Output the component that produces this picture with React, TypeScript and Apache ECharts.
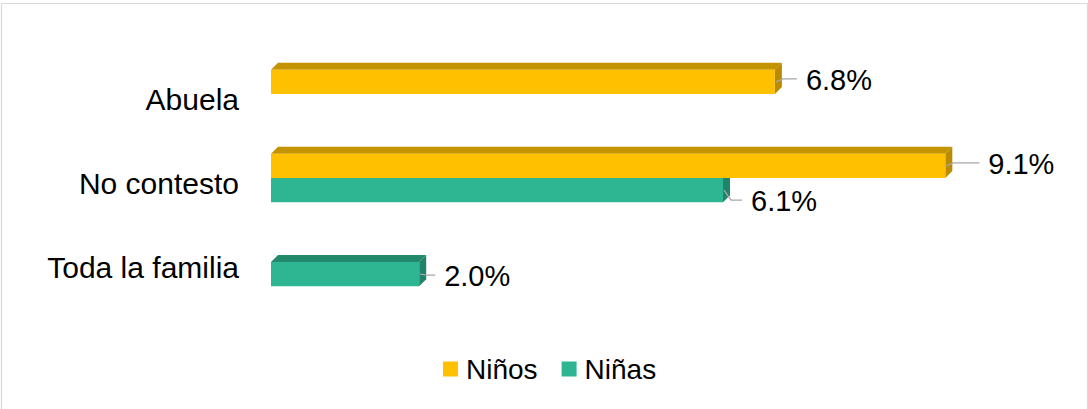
import React, { useEffect, useRef } from "react";
import * as echarts from "echarts";

const categories = ["Abuela", "No contesto", "Toda la familia"];
const seriesNames = ["Niños", "Niñas"];
const ninosValues: (number | null)[] = [6.8, 9.1, null];
const ninasValues: (number | null)[] = [null, 6.1, 2.0];

const FONT = 'Arial, "Liberation Sans", Helvetica, sans-serif';

// style: colours for front / top / side faces
const faceColors = [
  { front: "#FFC000", top: "#C49300", side: "#B98B00" },
  { front: "#2DB691", top: "#23896C", side: "#21846A" },
];
// style: label offsets (text left from bar end, text centre from bar centre), by series then category
const labelOffsets = [
  [ { dx: 31, dy: -2 }, { dx: 43, dy: -2 }, { dx: 28, dy: 0 } ],
  [ { dx: 28, dy: 0 }, { dx: 28, dy: 11 }, { dx: 25, dy: 2 } ],
];

const BAR_RATIO = 0.29;
const DEPTH = 7;

function makeSeries(sIdx: number, values: (number | null)[]) {
  const data: number[][] = [];
  values.forEach((v, i) => {
    if (v !== null) data.push([v, i]);
  });
  const col = faceColors[sIdx];
  return {
    type: "custom",
    name: seriesNames[sIdx],
    itemStyle: { color: col.front },
    encode: { x: 0, y: 1 },
    data,
    z: sIdx === 0 ? 3 : 2,
    renderItem: (params: any, api: any) => {
      const val = api.value(0);
      const cat = api.value(1);
      const start = api.coord([0, cat]);
      const end = api.coord([val, cat]);
      const band = api.size([0, 1])[1];
      const bw = band * BAR_RATIO;
      const x0 = start[0];
      const x1 = end[0];
      const yTop = sIdx === 0 ? start[1] - bw : start[1];
      const yBot = yTop + bw;
      const cy = (yTop + yBot) / 2;
      const off = labelOffsets[sIdx][cat];
      const tx = x1 + off.dx;
      const ty = cy + off.dy;
      return {
        type: "group",
        children: [
          {
            type: "polygon",
            shape: {
              points: [
                [x0, yTop],
                [x0 + DEPTH, yTop - DEPTH],
                [x1 + DEPTH, yTop - DEPTH],
                [x1, yTop],
              ],
            },
            style: { fill: col.top },
          },
          {
            type: "polygon",
            shape: {
              points: [
                [x1, yTop],
                [x1 + DEPTH, yTop - DEPTH],
                [x1 + DEPTH, yBot - DEPTH],
                [x1, yBot],
              ],
            },
            style: { fill: col.side },
          },
          {
            type: "rect",
            shape: { x: x0, y: yTop, width: x1 - x0, height: bw },
            style: { fill: col.front },
          },
          {
            type: "polyline",
            shape: {
              points: [
                [x1 + 1, cy],
                [x1 + 8, ty - 1],
                [tx - 9, ty - 1],
              ],
            },
            style: { stroke: "#A6A6A6", lineWidth: 1.3, fill: "none" },
          },
          {
            type: "text",
            style: {
              text: val.toFixed(1) + "%",
              x: tx,
              y: ty,
              align: "left",
              verticalAlign: "middle",
              fontSize: 29,
              fontFamily: FONT,
              fill: "#000",
            },
          },
        ],
      };
    },
  };
}

export default function App() {
  const ref = useRef<HTMLDivElement>(null);
  useEffect(() => {
    if (!ref.current) return;
    const chart = echarts.init(ref.current, null, { renderer: "svg" });
    chart.setOption({
      animation: false,
      backgroundColor: "#fff",
      textStyle: { fontFamily: FONT },
      graphic: [
        {
          type: "rect",
          shape: { x: 1.5, y: 3.5, width: 1086, height: 500 },
          style: { fill: "none", stroke: "#D9D9D9", lineWidth: 1.2 },
          silent: true,
        },
      ],
      grid: { left: 271, right: 76, top: 52, bottom: 105 },
      xAxis: {
        type: "value",
        min: 0,
        max: 10,
        show: false,
        splitLine: { show: false },
      },
      yAxis: {
        type: "category",
        data: categories,
        inverse: true,
        axisLine: { show: false },
        axisTick: { show: false },
        splitLine: { show: false },
        axisLabel: {
          fontSize: 30,
          color: "#000",
          fontFamily: FONT,
          margin: 32,
          verticalAlign: "top",
          lineHeight: 10,
        },
      },
      legend: {
        data: seriesNames,
        icon: "rect",
        itemWidth: 15,
        itemHeight: 15,
        itemGap: 24,
        left: 443,
        top: 355,
        padding: 0,
        textStyle: {
          fontSize: 28,
          color: "#000",
          fontFamily: FONT,
          padding: [0, 0, 0, 3],
        },
      },
      series: [makeSeries(1, ninasValues), makeSeries(0, ninosValues)],
    });
    return () => chart.dispose();
  }, []);
  return (
    <div
      ref={ref}
      style={{ position: "absolute", left: 0, top: 0, width: 1088, height: 409 }}
    />
  );
}
